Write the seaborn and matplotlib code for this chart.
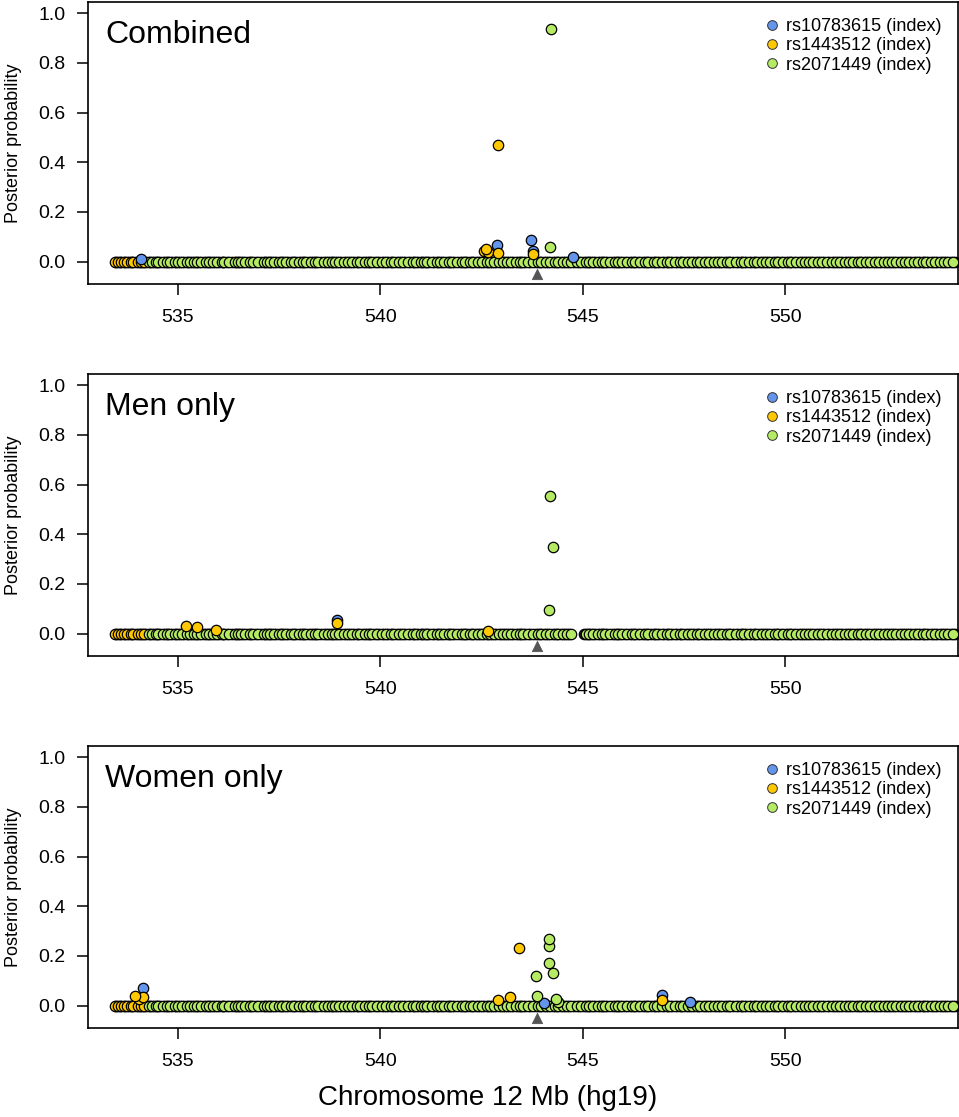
import matplotlib
matplotlib.use("Agg")
import matplotlib.pyplot as plt
from matplotlib.lines import Line2D
import seaborn as sns
import pandas as pd

sns.set_style("white")
plt.rcParams["font.family"] = ["Liberation Sans", "DejaVu Sans"]
plt.rcParams["text.color"] = "black"
plt.rcParams["axes.labelcolor"] = "black"
plt.rcParams["xtick.color"] = "black"
plt.rcParams["ytick.color"] = "black"

# ---------------- data ----------------
panel_titles = ["Combined", "Men only", "Women only"]
legend_labels = ["rs10783615 (index)", "rs1443512 (index)", "rs2071449 (index)"]
colors = {"blue": "#6495ED", "yellow": "#FFC800", "green": "#B5EB63", "other": "#1a1a1a"}

x_ticks = [535, 540, 545, 550]
y_ticks = [0.0, 0.2, 0.4, 0.6, 0.8, 1.0]
marker_pos = 543.86  # triangle marker position

# SNP positions coloured by LD group, sitting at (near) zero posterior probability
base_pos = [533.45, 533.52, 533.60, 533.66, 533.75, 533.83, 533.90, 534.02, 534.10, 534.16,
            534.28, 534.36, 534.45, 534.51, 534.63, 534.72, 534.80, 534.92, 535.01, 535.10,
            535.22, 535.30, 535.41, 535.47, 535.58, 535.70, 535.78, 535.86, 535.97, 536.08,
            536.15, 536.27, 536.40, 536.48, 536.55, 536.66, 536.78, 536.85, 536.98, 537.12,
            537.20, 537.28, 537.37, 537.50, 537.58, 537.66, 537.80, 537.88, 537.99, 538.08,
            538.17, 538.30, 538.38, 538.47, 538.60, 538.72, 538.80, 538.88, 538.97, 539.10,
            539.21, 539.30, 539.42, 539.50, 539.63, 539.71, 539.80, 539.92, 540.05, 540.14,
            540.26, 540.35, 540.47, 540.55, 540.68, 540.80, 540.88, 541.00, 541.08, 541.15,
            541.27, 541.40, 541.47, 541.58, 541.70, 541.77, 541.90, 542.02, 542.10, 542.21,
            542.30, 542.42, 542.50, 542.63, 542.72, 542.80, 542.92, 543.03, 543.12, 543.22,
            543.35, 543.44, 543.52, 543.65, 543.78, 543.90, 543.98, 544.10, 544.20, 544.32,
            544.40, 544.52, 544.60, 544.72, 544.85, 544.95, 545.08, 545.16, 545.25, 545.38,
            545.47, 545.55, 545.68, 545.80, 545.87, 545.98, 546.10, 546.22, 546.30, 546.42,
            546.53, 546.62, 546.75, 546.83, 546.95, 547.07, 547.15, 547.28, 547.40, 547.48,
            547.60, 547.70, 547.82, 547.90, 548.03, 548.12, 548.25, 548.33, 548.45, 548.57,
            548.65, 548.78, 548.90, 548.98, 549.10, 549.22, 549.30, 549.43, 549.52, 549.63,
            549.75, 549.83, 549.95, 550.07, 550.15, 550.28, 550.40, 550.48, 550.60, 550.70,
            550.82, 550.92, 551.03, 551.15, 551.25, 551.35, 551.47, 551.57, 551.68, 551.80,
            551.88, 552.00, 552.10, 552.22, 552.32, 552.43, 552.55, 552.63, 552.75, 552.87,
            552.95, 553.07, 553.18, 553.28, 553.40, 553.48, 553.60, 553.70, 553.82, 553.92,
            554.03, 554.15]
# further SNPs (low LD, dark) underneath the coloured ones
other_pos = [533.48, 533.57, 533.70, 533.79, 533.87, 533.96, 534.06, 534.13, 534.22, 534.32,
             534.41, 534.48, 534.57, 534.67, 534.76, 534.86, 534.96, 535.05, 535.16, 535.26,
             535.35, 535.44, 535.53, 535.64, 535.74, 535.82, 535.92, 536.02, 536.12, 536.21,
             536.33, 536.44, 536.51, 536.60, 536.72, 536.81, 536.92, 537.05, 537.16, 537.24,
             537.33, 537.43, 537.54, 537.62, 537.73, 537.84, 537.93, 538.03, 538.12, 538.23,
             538.34, 538.42, 538.53, 538.66, 538.76, 538.84, 538.93, 539.04, 539.15, 539.26,
             539.36, 539.46, 539.57, 539.67, 539.75, 539.86, 539.98, 540.10, 540.20, 540.30,
             540.41, 540.51, 540.62, 540.74, 540.84, 540.94, 541.04, 541.12, 541.21, 541.33,
             541.43, 541.52, 541.64, 541.73, 541.83, 541.96, 542.06, 542.15, 542.26, 542.36,
             542.46, 542.56, 542.67, 542.76, 542.86, 542.97, 543.07, 543.17, 543.28, 543.39,
             543.48, 543.58, 543.71, 543.84, 543.94, 544.04, 544.15, 544.26, 544.36, 544.46,
             544.56, 544.66, 544.78, 544.90, 545.02, 545.12, 545.20, 545.31, 545.42, 545.51,
             545.61, 545.74, 545.84, 545.92, 546.04, 546.16, 546.26, 546.36, 546.48, 546.58,
             546.68, 546.79, 546.89, 547.01, 547.11, 547.21, 547.34, 547.44, 547.54, 547.65,
             547.76, 547.86, 547.96, 548.07, 548.18, 548.29, 548.39, 548.51, 548.61, 548.72,
             548.84, 548.94, 549.04, 549.16, 549.26, 549.37, 549.47, 549.58, 549.69, 549.79,
             549.89, 550.01, 550.11, 550.22, 550.34, 550.44, 550.54, 550.65, 550.76, 550.87,
             550.97, 551.09, 551.20, 551.30, 551.41, 551.52, 551.62, 551.74, 551.84, 551.94,
             552.05, 552.16, 552.27, 552.38, 552.49, 552.59, 552.69, 552.81, 552.91, 553.01,
             553.12, 553.23, 553.34, 553.44, 553.54, 553.65, 553.76, 553.87, 553.97, 554.09,
             554.20]
yellow_region_end = 534.2       # baseline SNPs left of this belong to the rs1443512 group
men_missing = (544.75, 545.0)   # no SNPs in the men-only analysis in this window

# highlighted (non-zero) SNPs per panel: positions and posterior probabilities
comb_blue_x = [534.10, 544.75, 543.78, 542.89, 543.73]
comb_blue_y = [0.010, 0.017, 0.044, 0.065, 0.087]
comb_yellow_x = [543.78, 542.55, 542.65, 542.60, 542.90, 542.90]
comb_yellow_y = [0.030, 0.044, 0.037, 0.050, 0.035, 0.470]
comb_green_x = [544.20, 544.22]
comb_green_y = [0.059, 0.935]

men_blue_x = [538.94]
men_blue_y = [0.055]
men_yellow_x = [542.67, 535.93, 535.48, 535.20, 538.94]
men_yellow_y = [0.012, 0.016, 0.025, 0.032, 0.043]
men_green_x = [544.17, 544.26, 544.19]
men_green_y = [0.095, 0.350, 0.555]

women_blue_x = [544.05, 547.65, 546.97, 534.13]
women_blue_y = [0.012, 0.015, 0.041, 0.069]
women_yellow_x = [534.05, 534.13, 533.95, 542.90, 543.20, 546.97, 543.43]
women_yellow_y = [0.028, 0.035, 0.038, 0.022, 0.033, 0.022, 0.232]
women_green_x = [544.40, 544.33, 543.88, 543.85, 544.26, 544.17, 544.17, 544.17]
women_green_y = [0.015, 0.026, 0.040, 0.118, 0.133, 0.172, 0.240, 0.270]

panels = [
    dict(title=panel_titles[0], exclude=None,
         blue=(comb_blue_x, comb_blue_y), yellow=(comb_yellow_x, comb_yellow_y),
         green=(comb_green_x, comb_green_y)),
    dict(title=panel_titles[1], exclude=men_missing,
         blue=(men_blue_x, men_blue_y), yellow=(men_yellow_x, men_yellow_y),
         green=(men_green_x, men_green_y)),
    dict(title=panel_titles[2], exclude=None,
         blue=(women_blue_x, women_blue_y), yellow=(women_yellow_x, women_yellow_y),
         green=(women_green_x, women_green_y)),
]

# ---------------- figure ----------------
W, H = 959, 1117
fig = plt.figure(figsize=(W / 100, H / 100), dpi=100)

left = 88 / W
width = 870 / W
tops = [2, 374, 746]
ph = 282

PT_S = 56
EDGE = 0.9


def keep(x, excl):
    return excl is None or not (excl[0] < x < excl[1])


for p, top in zip(panels, tops):
    ax = fig.add_axes([left, 1 - (top + ph) / H, width, ph / H])

    ox = [x for x in other_pos if keep(x, p["exclude"])]
    sns.scatterplot(x=ox, y=[0.0] * len(ox), color=colors["other"], edgecolor="black",
                    linewidth=EDGE, s=PT_S, ax=ax, zorder=2, legend=False)

    bx = [x for x in base_pos if keep(x, p["exclude"])]
    df = pd.DataFrame({"pos": bx, "pp": [0.0] * len(bx)})
    df["grp"] = ["yellow" if x < yellow_region_end else "green" for x in bx]
    for g in ["yellow", "green"]:
        sub = df[df["grp"] == g]
        sns.scatterplot(data=sub, x="pos", y="pp", color=colors[g], edgecolor="black",
                        linewidth=EDGE, s=PT_S, ax=ax, zorder=3, legend=False)
    for g in ["blue", "yellow", "green"]:
        xs, ys = p[g]
        sns.scatterplot(x=xs, y=ys, color=colors[g], edgecolor="black",
                        linewidth=EDGE, s=PT_S, ax=ax, zorder=4, legend=False)
    # triangle marker below the baseline
    sns.scatterplot(x=[marker_pos], y=[-0.048], marker="^", color="#555555",
                    edgecolor="#555555", s=55, ax=ax, zorder=5, legend=False)

    ax.set_xlim(532.78, 554.27)
    ax.set_ylim(-0.09, 1.045)
    ax.set_xticks(x_ticks)
    ax.set_xticklabels([str(t) for t in x_ticks])
    ax.set_yticks(y_ticks)
    ax.set_yticklabels([f"{t:.1f}" for t in y_ticks])
    ax.tick_params(axis="both", direction="out", length=8, width=1.1, labelsize=14,
                   colors="black", bottom=True, left=True)
    ax.tick_params(axis="x", pad=10)
    ax.tick_params(axis="y", pad=8)
    for s in ax.spines.values():
        s.set_visible(True)
        s.set_color("black")
        s.set_linewidth(1.2)
    ax.set_xlabel("")
    ax.set_ylabel("Posterior probability", fontsize=13)
    ax.yaxis.set_label_coords(-66 / 870, 0.5)
    ax.text(0.02, 0.935, p["title"], transform=ax.transAxes, fontsize=23,
            ha="left", va="top")

    handles = [Line2D([0], [0], marker="o", linestyle="", markerfacecolor=colors[c],
                      markeredgecolor="#333333", markeredgewidth=0.7, markersize=7)
               for c in ["blue", "yellow", "green"]]
    ax.legend(handles, legend_labels, loc="upper right", frameon=False, fontsize=13,
              handletextpad=0.2, labelspacing=0.12, borderaxespad=0.5,
              handlelength=1.2, borderpad=0.4)

fig.text(488 / W, 1 - 1098 / H, "Chromosome 12 Mb (hg19)", fontsize=20,
         ha="center", va="center")

fig.savefig("out.png", dpi=100)
